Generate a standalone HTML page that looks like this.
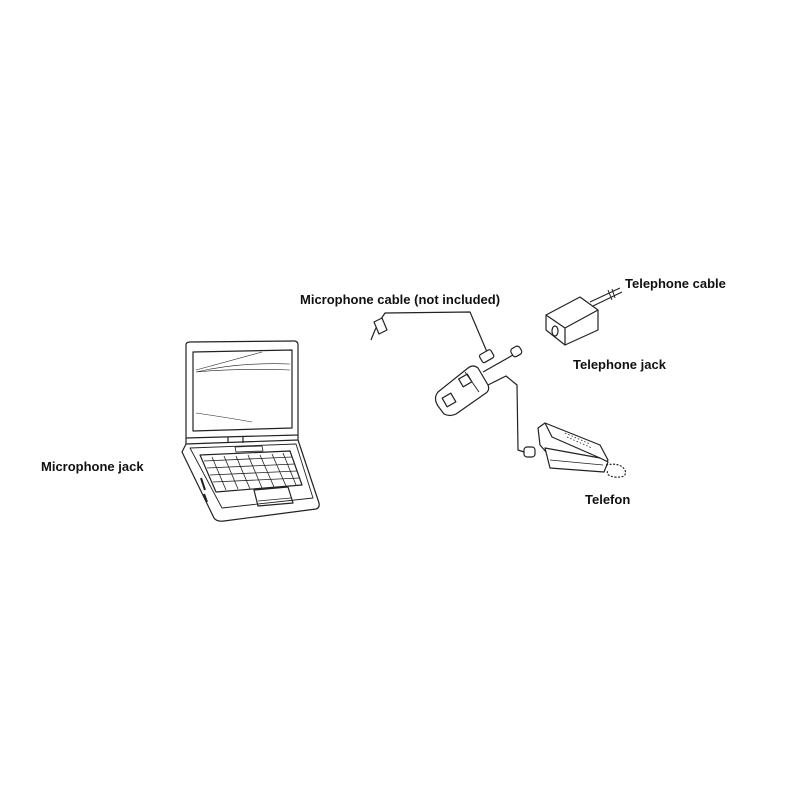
<!DOCTYPE html>
<html><head><meta charset="utf-8"><style>
html,body{margin:0;padding:0;background:#fff;width:800px;height:800px;overflow:hidden}
svg{display:block}
text{font-family:"Liberation Sans",Arial,sans-serif;font-size:13px;fill:#111;font-weight:bold}
</style></head><body>
<svg width="800" height="800" viewBox="0 0 800 800" xmlns="http://www.w3.org/2000/svg">
<g fill="none" stroke="#222" stroke-width="1.2" stroke-linejoin="round">
<!-- laptop lid -->
<path d="M186,345 Q186,342 190,342 L294,341 Q298,341 298,345 L298,435 L186,438 Z"/>
<path d="M193,352 L292,350 L292,428 L193,431 Z"/>
<path d="M196,370 L262,352 M196,372 Q240,362 290,364 M196,372 Q240,368 290,370 M196,413 Q230,418 252,422" stroke-width="0.6"/>
<!-- hinge -->
<path d="M186,438 L186,444 L298,440 L298,435"/>
<path d="M228,437 L228,443 M243,437 L243,443"/>
<!-- base -->
<path d="M186,444 L182,452 L214,518 Q217,522 224,521 L316,509 Q320,508 319,503 L300,446 L298,440"/>
<path d="M190,448 L296,444 L313,498 L222,508 Z" stroke-width="0.9"/>
<path d="M200,455 L290,451 L302,485 L216,492 Z"/>
<path d="M204,461 L292,457 M207,468 L295,464 M210,475 L297,471 M213,482 L300,478" stroke-width="0.8"/>
<path d="M212,457 L226,490 M224,456 L238,489 M236,456 L250,489 M248,455 L262,488 M260,455 L274,487 M272,454 L286,486 M283,453 L296,485" stroke-width="0.8"/>
<path d="M235,447 L262,446 L263,451 L236,452 Z" stroke-width="0.8"/>
<path d="M254,490 L288,487 L293,503 L258,506 Z"/>
<path d="M258,501 L291,498" stroke-width="0.8"/>
<path d="M201,478 L205,490 M204,494 L207,502" stroke-width="2"/>
<!-- microphone cable -->
<path d="M371,340 L375,330 L381,319 L385,313 L470,312 L487,352"/>
<path d="M374,322 L382,318 L387,330 L379,334 Z" fill="#fff"/>
<rect x="480" y="352" width="13" height="9" rx="2" transform="rotate(-30 486 356)" fill="#fff"/>
<!-- device -->
<path d="M438,392 L468,368 Q473,364 478,368 L488,385 Q490,390 486,393 L456,414 Q450,417 444,414 L438,406 Q433,398 438,392 Z" fill="#fff"/>
<path d="M465,372 L479,392" stroke-width="0.9"/>
<rect x="460" y="376" width="10" height="9" transform="rotate(-30 465 380)"/>
<rect x="444" y="395" width="10" height="10" transform="rotate(-30 449 400)"/>
<!-- cables from device -->
<path d="M483,372 L513,355"/>
<rect x="511" y="347" width="10" height="9" rx="3" transform="rotate(-30 516 351)" fill="#fff"/>
<path d="M488,385 L506,376 L517,385 L518,450 L524,452"/>
<rect x="524" y="447" width="11" height="10" rx="3" fill="#fff"/>
<!-- telephone jack -->
<path d="M546,315 L580,297 L598,310 L598,330 L565,345 L546,330 Z" fill="#fff"/>
<path d="M546,315 L565,328 L598,310 M565,328 L565,345"/>
<ellipse cx="555" cy="331" rx="3" ry="5"/>
<path d="M590,302 L620,288 M593,306 L622,292 M608,290 L612,300 M612,289 L615,298" stroke-width="1"/>
<!-- telephone -->
<path d="M538,428 L545,423 L600,445 L608,460 L600,470 L560,468 L540,445 Z" fill="#fff"/>
<path d="M545,423 L552,437 L600,458"/>
<path d="M545,448 L600,458 L608,462 L604,472 L550,468 Z" fill="#fff"/>
<path d="M550,460 L603,465" stroke-width="0.8"/>
<path d="M565,433 L590,444 M567,437 L592,448" stroke-width="0.8" stroke-dasharray="1.5 2"/>
<path d="M606,465 Q620,462 625,470 Q628,478 615,477 Q605,476 608,470" stroke-dasharray="2 1.5"/>
</g>
<text x="41" y="471">Microphone jack</text>
<text x="300" y="304">Microphone cable (not included)</text>
<text x="625" y="288">Telephone cable</text>
<text x="573" y="369">Telephone jack</text>
<text x="585" y="504">Telefon</text>
</svg>
</body></html>
